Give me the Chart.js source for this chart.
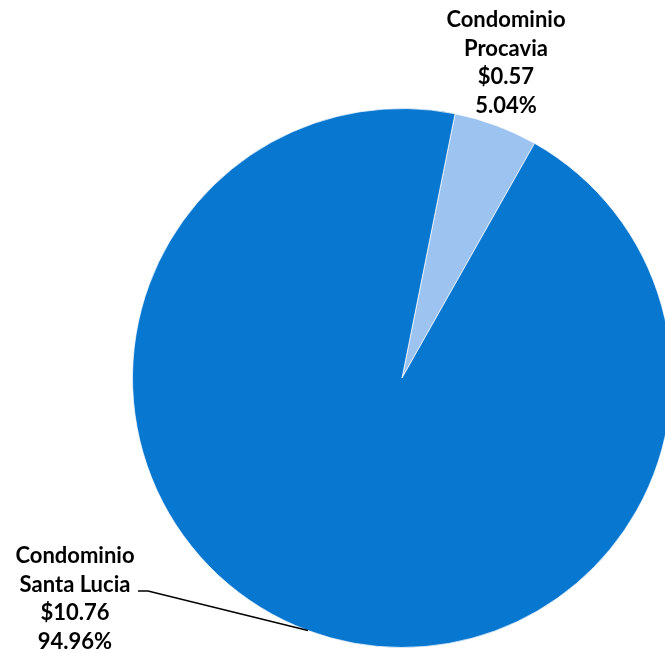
<!DOCTYPE html>
<html>
<head>
<meta charset="utf-8">
<script src="https://cdn.jsdelivr.net/npm/chart.js@4"></script>
<style>
  html, body { margin: 0; padding: 0; background: #fff; overflow: hidden; }
  #wrap { width: 665px; height: 653px; overflow: hidden; position: relative; }
</style>
</head>
<body>
<div id="wrap"><canvas id="myChart" width="804" height="653"></canvas></div>
<script>
"use strict"
// Daten aus dem Bild
const categories = ['Condominio Procavia', 'Condominio Santa Lucia'];
const labelLines = [['Condominio', 'Procavia'], ['Condominio', 'Santa Lucia']];
const amounts = [0.57, 10.76];
const amountLabels = ['$0.57', '$10.76'];
const percentLabels = ['5.04%', '94.96%'];
const sliceColors = ['#9dc3f1', '#0877d0'];

// Beschriftungen mit Führungslinie
const labelPlugin = {
    id: 'sliceLabels',
    afterDraw(chart) {
        const ctx = chart.ctx;
        const arcs = chart.getDatasetMeta(0).data;
        ctx.save();
        ctx.font = 'bold 22px Lato';
        ctx.fillStyle = '#000';
        ctx.textAlign = 'center';
        ctx.textBaseline = 'middle';
        arcs.forEach((arc, i) => {
            const mid = (arc.startAngle + arc.endAngle) / 2;
            const ex = arc.x + Math.cos(mid) * arc.outerRadius;
            const ey = arc.y + Math.sin(mid) * arc.outerRadius;
            const lines = labelLines[i].concat([amountLabels[i], percentLabels[i]]);
            let cx, top;
            if (i === 0) {
                cx = ex + 10;
                top = ey - 20 - 3 * 28.5;
            } else {
                cx = 75;
                top = 556;
                ctx.beginPath();
                ctx.strokeStyle = '#000';
                ctx.lineWidth = 1.5;
                ctx.moveTo(ex, ey);
                ctx.lineTo(148, 591);
                ctx.lineTo(138, 591);
                ctx.stroke();
            }
            lines.forEach((t, k) => ctx.fillText(t, cx, top + k * 28.5));
        });
        ctx.restore();
    }
};

const config = {
    type: 'pie',
    data: {
        labels: categories,
        datasets: [{
            data: amounts,
            backgroundColor: sliceColors,
            borderColor: 'rgba(255,255,255,0.7)',
            borderWidth: 1
        }]
    },
    options: {
        responsive: false,
        animation: false,
        rotation: 11.35,
        layout: { padding: { left: 132, right: 132, top: 108, bottom: 5 } },
        plugins: {
            legend: { display: false },
            tooltip: { enabled: false }
        }
    },
    plugins: [labelPlugin]
};

new Chart(document.getElementById('myChart'), config);
</script>
</body>
</html>
